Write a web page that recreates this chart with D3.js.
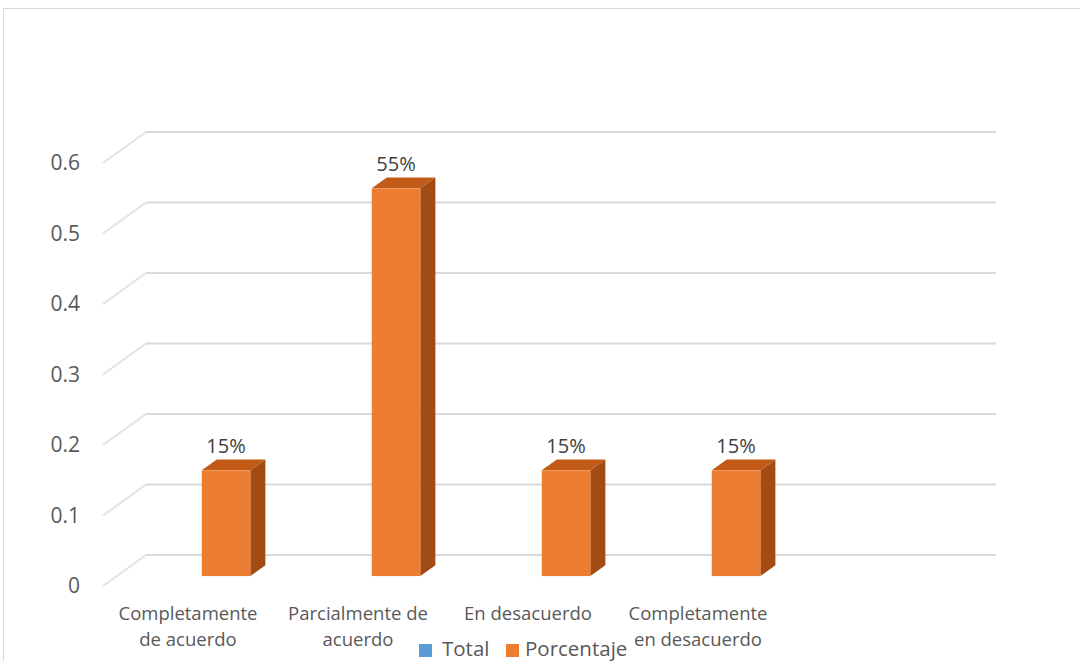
<!DOCTYPE html>
<html>
<head>
<meta charset="utf-8">
<script src="https://cdn.jsdelivr.net/npm/d3@7"></script>
<style>
  html, body { margin: 0; padding: 0; background: #ffffff; }
  svg { display: block; font-family: "Open Sans", "Noto Sans", sans-serif; }
</style>
</head>
<body>
<svg id="chart" width="1080" height="661"></svg>
<script>
// ---- data ----
const categories = ["Completamente de acuerdo", "Parcialmente de acuerdo", "En desacuerdo", "Completamente en desacuerdo", ""];
const seriesNames = ["Total", "Porcentaje"];
const totalValues = [null, null, null, null, null];
const porcentajeValues = [0.15, 0.55, 0.15, 0.15, null];
const yTicks = [0, 0.1, 0.2, 0.3, 0.4, 0.5, 0.6];
const seriesColors = ["#5B9BD5", "#ED7D31"];

// ---- layout ----
const svg = d3.select("#chart");
const depth = { dx: 43, dy: -31 };      // front -> back wall offset
const barDepth = { d0: 0.32, d1: 0.67 }; // bar front/back depth fractions

// outer border
svg.append("rect").attr("x", 3.5).attr("y", 8.5).attr("width", 1100).attr("height", 700)
  .attr("fill", "none").attr("stroke", "#d9d9d9").attr("stroke-width", 1);

const x = d3.scaleBand().domain(categories).range([103, 953]).paddingInner(0).paddingOuter(0);
const xs = d3.scaleBand().domain(seriesNames).range([0, x.bandwidth()]).paddingInner(0).paddingOuter(0.75);
const y = d3.scaleLinear().domain([0, 0.6]).range([586, 163]);

// gridlines (side wall diagonal + back wall)
const grid = svg.append("g");
yTicks.forEach(t => {
  const yf = y(t);
  grid.append("line")
    .attr("x1", x.range()[0]).attr("y1", yf)
    .attr("x2", x.range()[0] + depth.dx).attr("y2", yf + depth.dy)
    .attr("stroke", "#e3e3e3").attr("stroke-width", 2);
  grid.append("line")
    .attr("x1", x.range()[0] + depth.dx).attr("y1", yf + depth.dy)
    .attr("x2", x.range()[1] + depth.dx).attr("y2", yf + depth.dy)
    .attr("stroke", "#d9d9d9").attr("stroke-width", 2);
});

// y axis
const yAxis = d3.axisLeft(y).tickValues(yTicks).tickFormat(d3.format("~g")).tickSize(0).tickPadding(23);
const ya = svg.append("g").attr("transform", `translate(${x.range()[0]},0)`).call(yAxis);
ya.select(".domain").remove();
ya.selectAll("text").attr("fill", "#595959").style("font-size", "21px")
  .style("font-family", "'Open Sans', sans-serif");

// bars
const bars = svg.append("g");
const data = categories.map((c, i) => ({ c, v: porcentajeValues[i], t: totalValues[i] }));
const fdx = barDepth.d0 * depth.dx, fdy = barDepth.d0 * depth.dy;
const sdx = (barDepth.d1 - barDepth.d0) * depth.dx, sdy = (barDepth.d1 - barDepth.d0) * depth.dy;

data.filter(d => d.v != null).forEach(d => {
  const x0 = x(d.c) + xs("Porcentaje") + fdx;
  const x1 = x0 + xs.bandwidth();
  const yt = y(d.v) + fdy;
  const yb = y(0) + fdy;
  const g = bars.append("g");
  g.append("polygon")
    .attr("points", [[x1, yb], [x1, yt], [x1 + sdx, yt + sdy], [x1 + sdx, yb + sdy]].map(p => p.join(",")).join(" "))
    .attr("fill", "#A24B12");
  g.append("polygon")
    .attr("points", [[x0, yt], [x1, yt], [x1 + sdx, yt + sdy], [x0 + sdx, yt + sdy]].map(p => p.join(",")).join(" "))
    .attr("fill", "#C15A17");
  g.append("rect").attr("x", x0).attr("y", yt).attr("width", x1 - x0).attr("height", yb - yt)
    .attr("fill", seriesColors[1]);
  g.append("text").attr("x", (x0 + x1) / 2).attr("y", yt - 17)
    .attr("text-anchor", "middle").attr("fill", "#404040").style("font-size", "20px")
    .text(d3.format(".0%")(d.v));
});

// category labels
const catG = svg.append("g");
const maxW = 150;
categories.forEach(c => {
  if (!c) return;
  const cx = x(c) + x.bandwidth() / 2;
  const t = catG.append("text").attr("x", cx).attr("y", 619.5)
    .attr("text-anchor", "middle").attr("fill", "#595959").style("font-size", "18.5px");
  const words = c.split(" ");
  let line = [], tspan = t.append("tspan").attr("x", cx).attr("dy", 0);
  words.forEach(w => {
    line.push(w);
    tspan.text(line.join(" "));
    if (tspan.node().getComputedTextLength() > maxW && line.length > 1) {
      line.pop();
      tspan.text(line.join(" "));
      line = [w];
      tspan = t.append("tspan").attr("x", cx).attr("dy", 26).text(w);
    }
  });
});

// legend
const legend = svg.append("g");
const legendItems = [
  { name: seriesNames[0], color: seriesColors[0], x: 419, tx: 442 },
  { name: seriesNames[1], color: seriesColors[1], x: 506, tx: 525 }
];
legendItems.forEach(it => {
  legend.append("rect").attr("x", it.x).attr("y", 644).attr("width", 13).attr("height", 13).attr("fill", it.color);
  legend.append("text").attr("x", it.tx).attr("y", 655.5).attr("fill", "#595959")
    .style("font-size", "20.5px").text(it.name);
});
</script>
</body>
</html>
